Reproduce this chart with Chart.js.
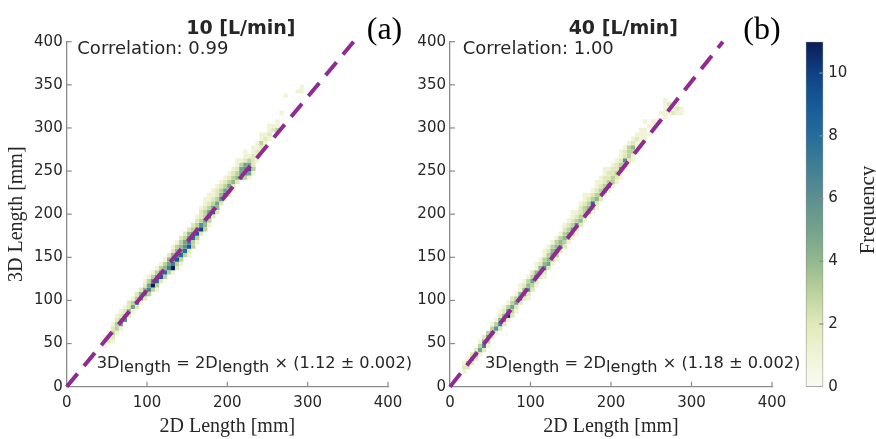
<!DOCTYPE html>
<html><head><meta charset="utf-8">
<script src="https://cdn.jsdelivr.net/npm/chart.js@4.4.1/dist/chart.umd.min.js"></script>
<style>
html,body{margin:0;padding:0;background:#fff;}
#wrap{position:relative;width:876px;height:439px;overflow:hidden;background:#fff;}
canvas{position:absolute;top:0;}
</style></head><body>
<div id="wrap">
<canvas id="ca" width="420" height="439" style="left:0px"></canvas>
<canvas id="cb" width="410" height="439" style="left:400px"></canvas>
<canvas id="cc" width="86" height="439" style="left:790px"></canvas>
</div>
<script>
// ---------------- DATA ----------------
const panelTitles = ['10 [L/min]', '40 [L/min]'];
const panelLabels = ['(a)', '(b)'];
const correlations = ['0.99', '1.00'];
const slopes = [1.12, 1.18];
const slopeErrors = ['0.002', '0.002'];
const axisTicksX = [0, 100, 200, 300, 400];
const axisTicksY = [0, 50, 100, 150, 200, 250, 300, 350, 400];
const colorbarTicks = [0, 2, 4, 6, 8, 10];
const colorbarMax = 11;
const binSize = 5;
// histogram cells: [2D bin start (mm), 3D bin start (mm), count]
const cellsA = [
[45,45,1],
[45,50,1],[50,50,2],[55,50,1],
[45,55,1],[50,55,1],[55,55,2],
[50,60,1],[55,60,3],[60,60,1],
[55,65,2],[60,65,3],[65,65,1],
[55,70,1],[60,70,3],[65,70,5],
[60,75,2],[65,75,3],[70,75,6],
[60,80,1],[65,80,2],[70,80,3],[75,80,2],
[65,85,1],[70,85,2],[75,85,4],[80,85,1],
[70,90,1],[75,90,2],[80,90,5],[85,90,2],
[75,95,2],[80,95,3],[85,95,7],[90,95,1],
[80,100,1],[85,100,3],[90,100,6],[95,100,2],
[85,105,2],[90,105,4],[95,105,5],[100,105,3],
[90,110,2],[95,110,4],[100,110,7],[105,110,3],[110,110,1],
[95,115,2],[100,115,5],[105,115,11],[110,115,3],
[95,120,1],[100,120,3],[105,120,6],[110,120,8],[115,120,2],
[100,125,1],[105,125,3],[110,125,5],[115,125,9],[120,125,3],
[105,130,1],[110,130,3],[115,130,5],[120,130,8],[125,130,3],[130,130,1],
[110,135,1],[115,135,3],[120,135,4],[125,135,7],[130,135,11],[135,135,2],
[115,140,1],[120,140,3],[125,140,5],[130,140,7],[135,140,3],[140,140,1],
[120,145,1],[125,145,4],[130,145,5],[135,145,9],[140,145,3],
[125,150,2],[130,150,4],[135,150,6],[140,150,8],[145,150,3],[150,150,1],
[130,155,2],[135,155,4],[140,155,5],[145,155,8],[150,155,2],
[130,160,1],[135,160,3],[140,160,4],[145,160,6],[150,160,9],[155,160,3],
[135,165,1],[140,165,3],[145,165,5],[150,165,7],[155,165,3],[160,165,1],
[140,170,2],[145,170,3],[150,170,5],[155,170,8],[160,170,3],
[145,175,2],[150,175,4],[155,175,5],[160,175,9],[165,175,2],
[150,180,2],[155,180,3],[160,180,5],[165,180,10],[170,180,3],
[155,185,2],[160,185,3],[165,185,6],[170,185,4],[175,185,1],
[160,190,2],[165,190,3],[170,190,5],[175,190,3],
[160,195,1],[165,195,2],[170,195,3],[175,195,7],[180,195,2],
[165,200,2],[170,200,3],[175,200,5],[180,200,9],[185,200,2],
[165,205,1],[170,205,2],[175,205,3],[180,205,5],[185,205,4],
[170,210,1],[175,210,2],[180,210,3],[185,210,5],[190,210,2],
[170,215,1],[175,215,1],[180,215,2],[185,215,3],[190,215,6],[195,215,1],
[175,220,1],[180,220,1],[185,220,2],[190,220,4],[195,220,8],[200,220,2],
[180,225,1],[185,225,2],[190,225,3],[195,225,5],[200,225,4],[205,225,1],
[185,230,1],[190,230,2],[195,230,3],[200,230,5],[205,230,2],
[190,235,1],[195,235,2],[200,235,3],[205,235,4],[210,235,2],
[195,240,1],[200,240,2],[205,240,3],[210,240,4],[215,240,5],[220,240,3],[225,240,1],
[200,245,1],[205,245,2],[210,245,3],[215,245,5],[220,245,6],[225,245,5],[230,245,1],
[205,250,1],[210,250,2],[215,250,5],[220,250,6],[225,250,9],[230,250,3],
[210,255,1],[215,255,3],[220,255,5],[225,255,5],[230,255,2],
[210,260,1],[215,260,1],[220,260,2],[225,260,3],[230,260,2],[235,260,1],
[220,265,1],[225,265,1],[230,265,2],[235,265,1],
[220,270,1],[230,270,1],[235,270,2],[240,270,1],
[230,275,1],[235,275,1],[240,275,2],
[235,280,1],[240,280,3],[245,280,1],
[240,285,1],[245,285,2],[250,285,1],
[240,290,1],[245,290,1],[250,290,2],
[250,295,1],[255,295,2],[260,295,3],
[250,300,1],[255,300,1],[260,300,1],
[260,305,1],
[265,315,1],
[270,335,1],
[285,340,1],[290,340,1],
[290,345,1]
];
const cellsB = [
[15,15,1],
[15,20,2],[20,20,2],
[15,25,1],[20,25,3],[25,25,2],
[20,30,1],[25,30,4],[30,30,2],
[25,35,2],[30,35,4],[35,35,1],
[30,40,2],[35,40,5],[40,40,2],
[35,45,3],[40,45,7],[45,45,1],
[35,50,1],[40,50,4],[45,50,3],
[40,55,2],[45,55,5],[50,55,2],
[45,60,3],[50,60,5],[55,60,1],
[50,65,3],[55,65,6],[60,65,2],
[50,70,1],[55,70,3],[60,70,7],[65,70,2],
[55,75,1],[60,75,4],[65,75,5],[70,75,1],
[60,80,2],[65,80,4],[70,80,11],[75,80,2],
[60,85,1],[65,85,2],[70,85,5],[75,85,3],[80,85,1],
[65,90,1],[70,90,3],[75,90,5],[80,90,2],
[70,95,1],[75,95,3],[80,95,5],[85,95,2],
[75,100,2],[80,100,3],[85,100,8],[90,100,2],[95,100,1],
[80,105,1],[85,105,4],[90,105,5],[95,105,2],
[85,110,1],[90,110,4],[95,110,6],[100,110,2],
[85,115,1],[90,115,2],[95,115,4],[100,115,3],[105,115,1],
[90,120,1],[95,120,3],[100,120,5],[105,120,2],
[95,125,1],[100,125,3],[105,125,8],[110,125,2],[115,125,1],
[100,130,2],[105,130,4],[110,130,5],[115,130,2],
[105,135,1],[110,135,4],[115,135,6],[120,135,2],
[105,140,1],[110,140,2],[115,140,4],[120,140,5],[125,140,1],
[110,145,1],[115,145,3],[120,145,4],[125,145,3],[130,145,1],
[115,150,1],[120,150,3],[125,150,5],[130,150,3],
[115,155,1],[120,155,2],[125,155,4],[130,155,6],[135,155,2],
[120,160,1],[125,160,3],[130,160,4],[135,160,5],[140,160,2],
[125,165,1],[130,165,3],[135,165,4],[140,165,3],[145,165,1],
[130,170,1],[135,170,3],[140,170,4],[145,170,3],[150,170,1],
[135,175,1],[140,175,3],[145,175,4],[150,175,3],[155,175,1],
[140,180,2],[145,180,3],[150,180,5],[155,180,2],
[140,185,1],[145,185,2],[150,185,3],[155,185,6],[160,185,2],
[145,190,1],[150,190,2],[155,190,3],[160,190,4],[165,190,1],
[150,195,1],[155,195,2],[160,195,3],[165,195,3],[170,195,1],
[150,200,1],[155,200,1],[160,200,2],[165,200,3],[170,200,4],[175,200,1],
[160,205,2],[165,205,3],[170,205,4],[175,205,3],[180,205,1],
[160,210,1],[165,210,2],[170,210,3],[175,210,8],[180,210,2],
[165,215,1],[170,215,2],[175,215,3],[180,215,4],[185,215,2],
[165,220,1],[170,220,1],[175,220,2],[180,220,3],[185,220,3],[190,220,1],
[175,225,1],[180,225,2],[185,225,3],[190,225,5],[195,225,1],
[180,230,1],[185,230,2],[190,230,3],[195,230,6],[200,230,1],
[180,235,1],[185,235,1],[190,235,2],[195,235,3],[200,235,3],[205,235,1],
[185,240,1],[190,240,2],[195,240,2],[200,240,3],[205,240,2],[210,240,1],
[190,245,1],[195,245,2],[200,245,2],[205,245,3],[210,245,1],
[190,250,1],[195,250,1],[200,250,2],[205,250,2],[210,250,6],[215,250,1],
[200,255,1],[205,255,2],[210,255,3],[215,255,3],[220,255,1],
[205,260,1],[210,260,2],[215,260,6],[220,260,2],[225,260,1],
[210,265,1],[215,265,2],[220,265,3],[225,265,1],
[210,270,1],[215,270,2],[220,270,3],[225,270,3],[230,270,2],
[215,275,1],[220,275,3],[225,275,4],[230,275,1],[235,275,1],
[220,280,1],[225,280,2],[230,280,1],[235,280,1],
[225,285,1],[230,285,2],[235,285,1],[240,285,1],
[230,290,1],[235,290,1],[240,290,1],[245,290,1],
[235,295,1],[240,295,1],[250,295,1],
[245,300,1],[250,300,1],
[240,305,1],[250,305,1],[255,305,1],
[265,310,1],
[260,315,1],[265,315,1],[270,315,1],[275,315,2],[280,315,1],[285,315,1],
[265,320,1],[270,320,1],[275,320,1],[280,320,2],[285,320,1],
[265,325,1],[270,325,2],[280,325,1],
[265,330,1]
];

// ---------------- STYLE ----------------
const cmapStops = [
 [0,[250,250,242]],[1,[240,243,214]],[2,[224,233,186]],[3,[186,210,156]],
 [4,[147,184,141]],[5,[116,162,140]],[6,[92,143,144]],[7,[66,127,149]],
 [8,[37,109,155]],[9,[23,90,151]],[10,[15,65,133]],[11,[11,29,85]]
];
function cmap(v){
  v = Math.max(0, Math.min(colorbarMax, v));
  for (let i=0;i<cmapStops.length-1;i++){
    const a=cmapStops[i], b=cmapStops[i+1];
    if (v<=b[0]){
      const t=(v-a[0])/(b[0]-a[0]);
      const c=a[1].map((x,k)=>Math.round(x+(b[1][k]-x)*t));
      return 'rgb('+c.join(',')+')';
    }
  }
  return 'rgb('+cmapStops[cmapStops.length-1][1].join(',')+')';
}
const AXIS_COLOR = '#8a8a8a';
const TEXT_COLOR = '#262626';
const SANS = "'DejaVu Sans', Verdana, sans-serif";
const SERIF = "'Liberation Serif', 'Times New Roman', serif";

const inwardTicks = {
  id: 'inwardTicks',
  afterDatasetsDraw(chart, args, opts){
    const ctx = chart.ctx;
    ctx.save();
    ctx.strokeStyle = AXIS_COLOR; ctx.lineWidth = 1.2;
    (opts.items||[]).forEach(it=>{
      const s = chart.scales[it.scale];
      s.ticks.forEach(t=>{
        if (it.skipZero && t.value===0) return;
        const p = s.getPixelForValue(t.value);
        ctx.beginPath();
        if (it.side==='bottom'){ ctx.moveTo(p, chart.chartArea.bottom); ctx.lineTo(p, chart.chartArea.bottom-it.len); }
        else if (it.side==='left'){ ctx.moveTo(chart.chartArea.left, p); ctx.lineTo(chart.chartArea.left+it.len, p); }
        else if (it.side==='right'){ ctx.moveTo(chart.chartArea.right, p); ctx.lineTo(chart.chartArea.right-it.len, p); }
        ctx.stroke();
      });
    });
    ctx.restore();
  }
};

const annot = {
  id: 'annot',
  afterDraw(chart, args, o){
    if (!o || !o.on) return;
    const ctx = chart.ctx, ca = chart.chartArea;
    ctx.save();
    ctx.fillStyle = TEXT_COLOR;
    if (o.title){
      ctx.font = "bold 19px " + SANS;
      ctx.textAlign='center'; ctx.textBaseline='middle';
      ctx.fillText(o.title, (ca.left+ca.right)/2 + o.titleDx, 29);
    }
    if (o.label){
      ctx.font = "32px " + SERIF;
      ctx.textAlign='center'; ctx.textBaseline='middle';
      ctx.fillStyle = '#000';
      ctx.fillText(o.label, ca.right + o.labelDx, 31);
      ctx.fillStyle = TEXT_COLOR;
    }
    if (o.corr){
      ctx.font = "18px " + SANS;
      ctx.textAlign='left'; ctx.textBaseline='middle';
      ctx.fillText('Correlation: ' + o.corr, ca.left + o.corrDx, 49);
    }
    if (o.slope){
      const parts = [['3D',0],['length',4],[' = 2D',0],['length',4],[' \u00d7 (' + o.slope + ' \u00b1 ' + o.err + ')',0]];
      ctx.font = "16.2px " + SANS;
      ctx.textAlign='left'; ctx.textBaseline='alphabetic';
      let x = ca.left + o.eqDx;
      const base = 368;
      parts.forEach(p=>{ ctx.fillText(p[0], x, base + p[1]); x += ctx.measureText(p[0]).width; });
    }
    ctx.restore();
  }
};

function panelConfig(i, cells, canvasW, plotLeft, plotRight, showYTitle, offs){
  const pts = cells.map(c=>({x:c[0]+binSize/2, y:c[1]+binSize/2, n:c[2]}));
  return {
    type: 'scatter',
    data: { datasets: [
      { data: pts, pointStyle: 'rect', borderWidth: 0,
        backgroundColor: c => c.raw ? cmap(c.raw.n) : '#fff',
        pointRadius: c => {
          const s = c.chart.scales;
          if (!s.x || !s.y) return 2;
          const w = Math.abs(s.x.getPixelForValue(binSize)-s.x.getPixelForValue(0));
          const h = Math.abs(s.y.getPixelForValue(binSize)-s.y.getPixelForValue(0));
          return Math.max(w,h)/Math.SQRT2;
        }, order: 2 },
      { data: [{x:0,y:0},{x:axisTicksY[axisTicksY.length-1]/slopes[i], y:axisTicksY[axisTicksY.length-1]}],
        showLine: true, borderColor: '#8e2c91', borderWidth: 4, borderDash: [17, 10],
        pointRadius: 0, fill: false, order: 1, clip: false }
    ]},
    options: {
      responsive: false, animation: false, events: [],
      layout: { padding: { left: 0, top: 41.7, right: canvasW - plotRight, bottom: 0 } },
      plugins: {
        legend: {display:false}, tooltip: {enabled:false},
        inwardTicks: { items: [{scale:'x', side:'bottom', len:5, skipZero:true},{scale:'y', side:'left', len:5, skipZero:true}] },
        annot: { on: true, title: panelTitles[i], titleDx: offs.titleDx, label: panelLabels[i], labelDx: offs.labelDx,
                 corr: correlations[i], corrDx: offs.corrDx, slope: slopes[i].toFixed(2), err: slopeErrors[i], eqDx: offs.eqDx }
      },
      scales: {
        x: { type:'linear', min: axisTicksX[0], max: axisTicksX[axisTicksX.length-1],
             afterBuildTicks: s => { s.ticks = axisTicksX.map(v=>({value:v})); },
             ticks: { padding: 7, color: TEXT_COLOR, font: {family: SANS, size: 15}, maxRotation: 0 },
             grid: { display:false, drawTicks:false },
             border: { display:true, color: AXIS_COLOR, width: 1.3 },
             title: { display:true, text:'2D Length [mm]', color: TEXT_COLOR, font:{family: SERIF, size: 20, lineHeight: 1.2}, padding:{top:0,bottom:0} },
             afterFit: s => { s.height = 439 - 386.7; } },
        y: { type:'linear', min: axisTicksY[0], max: axisTicksY[axisTicksY.length-1],
             afterBuildTicks: s => { s.ticks = axisTicksY.map(v=>({value:v})); },
             ticks: { padding: 4, color: TEXT_COLOR, font: {family: SANS, size: 15} },
             grid: { display:false, drawTicks:false },
             border: { display:true, color: AXIS_COLOR, width: 1.3 },
             title: { display: showYTitle, text:'3D Length [mm]', color: TEXT_COLOR, font:{family: SERIF, size: 20, lineHeight: 1.2}, padding:{top:5,bottom:0} },
             afterFit: s => { s.width = plotLeft; } }
      }
    },
    plugins: [inwardTicks, annot]
  };
}

new Chart(document.getElementById('ca'), panelConfig(0, cellsA, 420, 66.7, 388, true, {titleDx: 13.5, labelDx: -3.5, corrDx: 10.6, eqDx: 30}));
new Chart(document.getElementById('cb'), panelConfig(1, cellsB, 410, 50, 372, false, {titleDx: 12.3, labelDx: -10, corrDx: 12.7, eqDx: 35}));

const freqTitle = {
  id: 'freqTitle',
  afterDraw(chart){
    const ctx = chart.ctx;
    ctx.save();
    ctx.fillStyle = TEXT_COLOR;
    ctx.font = "21px " + SERIF;
    ctx.translate(78, 210);
    ctx.rotate(-Math.PI/2);
    ctx.textAlign = 'center'; ctx.textBaseline = 'middle';
    ctx.fillText('Frequency', 0, 0);
    ctx.restore();
  }
};

new Chart(document.getElementById('cc'), {
  type: 'bar',
  data: { labels: ['Frequency'], datasets: [{
    data: [[0, colorbarMax]],
    backgroundColor: c => {
      const ca = c.chart.chartArea;
      if (!ca) return '#ccc';
      const g = c.chart.ctx.createLinearGradient(0, ca.bottom, 0, ca.top);
      for (let v=0; v<=colorbarMax; v+=0.5) g.addColorStop(v/colorbarMax, cmap(v));
      return g;
    },
    borderColor: AXIS_COLOR, borderWidth: 1, borderSkipped: false,
    barPercentage: 1, categoryPercentage: 1
  }]},
  options: {
    responsive:false, animation:false, events: [],
    layout: { padding: { left: 15.7, top: 41.7, right: 0, bottom: 439-386.7 } },
    plugins: { legend:{display:false}, tooltip:{enabled:false},
      inwardTicks: { items: [{scale:'y', side:'right', len:4, skipZero:true}] } },
    scales: {
      x: { display:false },
      y: { position:'right', min:0, max: colorbarMax,
           afterBuildTicks: s => { s.ticks = colorbarTicks.map(v=>({value:v})); },
           ticks: { padding: 5, color: TEXT_COLOR, font:{family: SANS, size: 15} },
           grid: { display:false, drawTicks:false }, border: { display:false },
           afterFit: s => { s.width = 86 - 33.3; } }
    }
  },
  plugins: [inwardTicks, freqTitle]
});
</script>
</body></html>
